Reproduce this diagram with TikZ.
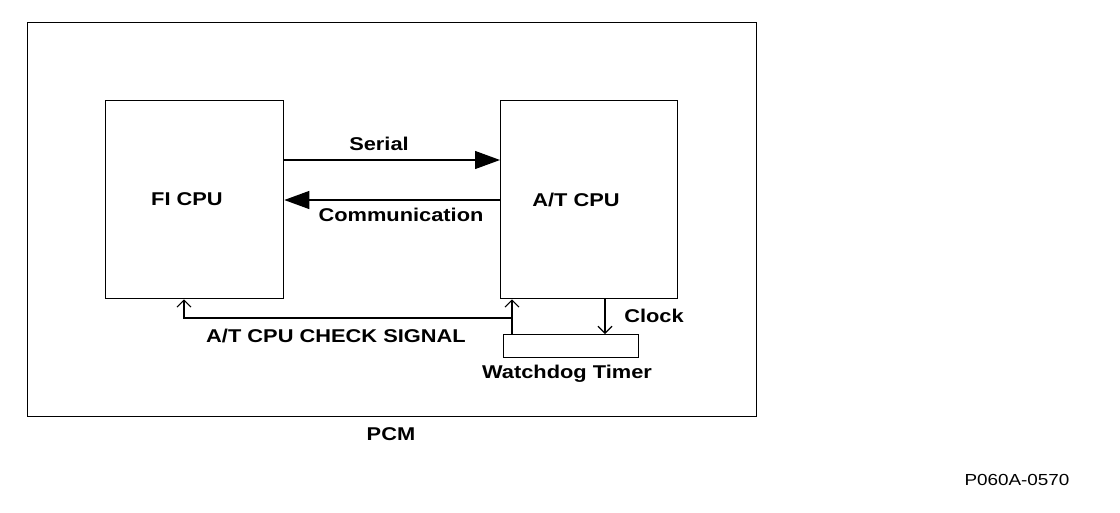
\documentclass[tikz,border=0pt]{standalone}
\usepackage{fontspec}
\setmainfont[FakeStretch=1.18]{Liberation Sans}
\usetikzlibrary{arrows.meta}
\begin{document}
\begin{tikzpicture}[x=1pt,y=-1pt,
  box/.style={draw,line width=1.3pt,anchor=north west,inner sep=0pt},
  lbl/.style={font=\fontsize{18.5}{20}\selectfont\bfseries,inner sep=0pt},
  big/.style={line width=1.2pt,-{Triangle[length=25pt,width=18pt]}},
  small/.style={line width=1.1pt,-{Straight Barb[length=7pt,width=14pt]}}]
\useasboundingbox (0,0) rectangle (1120,512);
\node[box,minimum width=729pt,minimum height=394pt] (pcm) at (27,22) {};
\node[box,minimum width=178pt,minimum height=198pt] (fi) at (105,100) {};
\node[box,minimum width=177pt,minimum height=198pt] (at) at (500,100) {};
\node[box,minimum width=135pt,minimum height=23pt] (wd) at (503,334) {};
\node[lbl] (fil) at (187,199) {FI CPU};
\node[lbl] (atl) at (576,200) {A/T CPU};
\draw[big] (fi.east |- 0,160) -- (at.west |- 0,160);
\draw[big] (at.west |- 0,200) -- (fi.east |- 0,200);
\node[lbl] (ser) at (379,144) {Serial};
\node[lbl] (com) at (401,215) {Communication};
\coordinate (j) at (512,318);
\draw[small] (wd.north -| j) -- (at.south -| j);
\draw[small] (j) -| (fi.south -| 184,0);
\draw[small] (at.south -| 605,0) -- (wd.north -| 605,0);
\node[lbl] (clk) at (654,316) {Clock};
\node[lbl] (chk) at (336,336) {A/T CPU CHECK SIGNAL};
\node[lbl] (wdl) at (567,374) {Watchdog Timer};
\node[lbl] (pcml) at (391,434) {PCM};
\node[font=\fontsize{16}{18}\selectfont,inner sep=0pt] (code) at (1017,480) {P060A-0570};
\end{tikzpicture}
\end{document}
